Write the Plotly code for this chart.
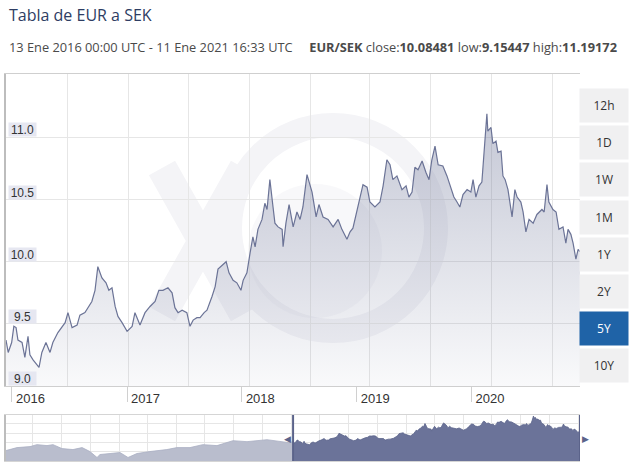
import plotly.graph_objects as go

# EUR/SEK, 5Y view
DATES = [
    "2016-01-13", "2016-01-20", "2016-01-31", "2016-02-07", "2016-02-14", "2016-02-20",
    "2016-03-04", "2016-03-13", "2016-03-23", "2016-03-29", "2016-04-08", "2016-04-21",
    "2016-04-27", "2016-05-06", "2016-05-19", "2016-06-01", "2016-06-10", "2016-06-26",
    "2016-07-09", "2016-07-19", "2016-07-28", "2016-08-10", "2016-08-26", "2016-09-04",
    "2016-09-20", "2016-09-30", "2016-10-12", "2016-10-22", "2016-10-31", "2016-11-13",
    "2016-11-26", "2016-12-05", "2016-12-15", "2016-12-25", "2017-01-03", "2017-01-16",
    "2017-01-25", "2017-02-01", "2017-02-17", "2017-02-26", "2017-03-14", "2017-03-30",
    "2017-04-15", "2017-05-01", "2017-05-13", "2017-05-26", "2017-06-11", "2017-06-24",
    "2017-07-03", "2017-07-13", "2017-07-26", "2017-08-10", "2017-08-20", "2017-08-30",
    "2017-09-11", "2017-09-21", "2017-10-04", "2017-10-13", "2017-10-29", "2017-11-08",
    "2017-11-17", "2017-12-03", "2017-12-13", "2017-12-22", "2018-01-04", "2018-01-16",
    "2018-01-29", "2018-02-05", "2018-02-17", "2018-02-27", "2018-03-08", "2018-03-15",
    "2018-03-24", "2018-04-06", "2018-04-15", "2018-04-22", "2018-05-01", "2018-05-11",
    "2018-05-17", "2018-05-27", "2018-06-09", "2018-06-12", "2018-06-21", "2018-07-01",
    "2018-07-14", "2018-07-26", "2018-08-05", "2018-08-14", "2018-08-27", "2018-09-12",
    "2018-09-25", "2018-10-04", "2018-10-17", "2018-11-02", "2018-11-18", "2018-12-04",
    "2018-12-16", "2019-01-01", "2019-01-11", "2019-01-20", "2019-02-02", "2019-02-12",
    "2019-02-21", "2019-03-06", "2019-03-15", "2019-03-31", "2019-04-16", "2019-04-26",
    "2019-05-08", "2019-05-18", "2019-05-27", "2019-06-09", "2019-06-25", "2019-07-08",
    "2019-07-17", "2019-07-27", "2019-08-05", "2019-08-15", "2019-08-28", "2019-09-09",
    "2019-09-19", "2019-09-28", "2019-10-08", "2019-10-18", "2019-11-02", "2019-11-15",
    "2019-11-28", "2019-12-07", "2019-12-17", "2019-12-26", "2020-01-05", "2020-01-18",
    "2020-01-30", "2020-02-06", "2020-02-15", "2020-02-25", "2020-03-05", "2020-03-12",
    "2020-03-21", "2020-03-24", "2020-04-03", "2020-04-09", "2020-04-19", "2020-04-25",
    "2020-05-05", "2020-05-11", "2020-05-18", "2020-05-27", "2020-06-09", "2020-06-18",
    "2020-06-25", "2020-07-07", "2020-07-14", "2020-07-23", "2020-08-02", "2020-08-15",
    "2020-08-27", "2020-09-12", "2020-09-19", "2020-09-28", "2020-10-04", "2020-10-17",
    "2020-10-27", "2020-11-05", "2020-11-18", "2020-11-27", "2020-12-04", "2020-12-13",
    "2020-12-20", "2020-12-29", "2021-01-05", "2021-01-11",
]
RATES = [
    9.37, 9.27, 9.35, 9.48, 9.47, 9.37,
    9.35, 9.23, 9.40, 9.25, 9.21, 9.17,
    9.15, 9.27, 9.35, 9.27, 9.35, 9.43,
    9.48, 9.51, 9.59, 9.47, 9.49, 9.57,
    9.59, 9.63, 9.68, 9.77, 9.96, 9.87,
    9.83, 9.77, 9.79, 9.64, 9.56, 9.51,
    9.47, 9.44, 9.48, 9.59, 9.49, 9.59,
    9.64, 9.68, 9.77, 9.77, 9.79, 9.75,
    9.63, 9.59, 9.61, 9.59, 9.48, 9.53,
    9.55, 9.55, 9.59, 9.61, 9.72, 9.80,
    9.94, 9.98, 10.00, 9.91, 9.85, 9.83,
    9.77, 9.85, 9.91, 10.07, 10.20, 10.12,
    10.26, 10.34, 10.47, 10.42, 10.66, 10.44,
    10.31, 10.28, 10.26, 10.12, 10.31, 10.46,
    10.28, 10.40, 10.34, 10.44, 10.70, 10.56,
    10.36, 10.46, 10.36, 10.34, 10.28, 10.34,
    10.26, 10.18, 10.24, 10.27, 10.42, 10.52,
    10.62, 10.60, 10.48, 10.44, 10.48, 10.61,
    10.82, 10.78, 10.66, 10.69, 10.58, 10.61,
    10.52, 10.56, 10.76, 10.74, 10.81, 10.72,
    10.66, 10.82, 10.93, 10.78, 10.77, 10.69,
    10.58, 10.52, 10.48, 10.44, 10.54, 10.58,
    10.56, 10.66, 10.52, 10.61, 10.64, 10.85,
    11.19, 11.05, 11.08, 10.95, 10.97, 10.88,
    10.89, 10.69, 10.66, 10.58, 10.36, 10.58,
    10.52, 10.48, 10.40, 10.24, 10.34, 10.31,
    10.38, 10.42, 10.40, 10.62, 10.48, 10.42,
    10.40, 10.26, 10.28, 10.15, 10.26, 10.22,
    10.15, 10.02, 10.10, 10.08,
]

# navigator history before the selected window
NAV_DATES = [
    "2011-01-13", "2011-03-24", "2011-06-15", "2011-07-29", "2011-10-01", "2011-11-08",
    "2012-01-04", "2012-03-14", "2012-05-11", "2012-06-30", "2012-08-14", "2012-09-02",
    "2012-11-05", "2013-01-07", "2013-02-27", "2013-04-25", "2013-07-16", "2013-11-01",
    "2014-01-04", "2014-03-28", "2014-06-18", "2014-09-16", "2014-12-27", "2015-03-26",
    "2015-07-31", "2015-10-22", "2015-12-18",
]
NAV_RATES = [
    8.74, 8.95, 9.02, 9.16, 9.09, 9.16,
    8.88, 8.81, 8.95, 8.67, 8.25, 8.46,
    8.53, 8.60, 8.25, 8.53, 8.67, 8.81,
    8.95, 8.95, 9.16, 9.09, 9.44, 9.37,
    9.51, 9.37, 9.30,
]

Y_TICKS = [9.0, 9.5, 10.0, 10.5, 11.0]
YEAR_TICKS = ["2016-02-01", "2017-02-01", "2018-02-01", "2019-02-01", "2020-02-01"]
YEAR_LABELS = ["2016", "2017", "2018", "2019", "2020"]
GRID_DATES = [
    "2016-07-25", "2017-02-04", "2017-08-14", "2018-02-24", "2018-09-06",
    "2019-03-15", "2019-09-25", "2020-04-06", "2020-10-14",
]
NAV_Y_GRID = [8.67, 9.30, 9.93, 10.63]
BUTTONS = ["12h", "1D", "1W", "1M", "1Y", "2Y", "5Y", "10Y"]
ACTIVE = "5Y"

W, H = 640, 467


def px(x):
    return x / W


def py(y):
    return 1 - y / H


LINE = "#6b7396"
FONT = "Open Sans"

fig = go.Figure()

fig.add_trace(
    go.Scatter(
        x=DATES, y=RATES, mode="lines",
        line=dict(color=LINE, width=1.2),
        fill="tozeroy",
        fillgradient=dict(
            type="vertical", start=9.0, stop=11.2,
            colorscale=[[0, "rgba(107,115,150,0.04)"], [1, "rgba(107,115,150,0.40)"]],
        ),
        hoverinfo="skip", showlegend=False,
    )
)

# navigator: history (light) and selected window (dark)
fig.add_trace(
    go.Scatter(
        x=NAV_DATES + DATES[:1], y=NAV_RATES + RATES[:1], mode="lines",
        line=dict(color="#a9aec3", width=0.8), fill="tozeroy", fillcolor="#b9bdcd",
        xaxis="x2", yaxis="y2", hoverinfo="skip", showlegend=False,
    )
)
fig.add_trace(
    go.Scatter(
        x=DATES, y=RATES, mode="lines",
        line=dict(color="#5b638a", width=0.8), fill="tozeroy", fillcolor="#6b7399",
        xaxis="x2", yaxis="y2", hoverinfo="skip", showlegend=False,
    )
)

# faint XE watermark behind the data
WM = "#f4f4f7"
shapes = [
    dict(type="path", xref="paper", yref="paper", layer="below",
         path=f"M {px(162)},{py(168)} L {px(244)},{py(314)} M {px(244)},{py(168)} L {px(162)},{py(314)}",
         line=dict(color=WM, width=30)),
    dict(type="circle", xref="paper", yref="paper", layer="below",
         x0=px(230), x1=px(436), y0=py(331), y1=py(125),
         line=dict(color=WM, width=24)),
    dict(type="circle", xref="paper", yref="paper", layer="below",
         x0=px(248), x1=px(382), y0=py(318), y1=py(184),
         line=dict(width=0), fillcolor="rgba(215,217,228,0.18)"),
]
# navigator handles
for d in (DATES[0], DATES[-1]):
    shapes.append(dict(type="line", xref="x2", yref="y2 domain", x0=d, x1=d, y0=0, y1=1,
                       line=dict(color="#5b638a", width=2)))

annotations = [
    dict(text="Tabla de EUR a SEK", x=px(7), y=py(15), xref="paper", yref="paper",
         xanchor="left", yanchor="middle", showarrow=False,
         font=dict(family=FONT, size=16, color="#2e3d63")),
    dict(text="13 Ene 2016 00:00 UTC - 11 Ene 2021 16:33 UTC" + "\u00a0" * 5 +
              "<b>EUR/SEK</b> close:<b>10.08481</b> low:<b>9.15447</b> high:<b>11.19172</b>",
         x=px(7), y=py(47), xref="paper", yref="paper",
         xanchor="left", yanchor="middle", showarrow=False,
         font=dict(family=FONT, size=12.8, color="#4a4a4a")),
    dict(text="\u25c0", x=DATES[0], xref="x2", y=0.5, yref="y2 domain", xanchor="right",
         yanchor="middle", showarrow=False, font=dict(size=9, color="#5b638a")),
    dict(text="\u25b6", x=DATES[-1], xref="x2", y=0.5, yref="y2 domain", xanchor="left",
         yanchor="middle", showarrow=False, font=dict(size=9, color="#5b638a")),
]
for v in Y_TICKS:
    annotations.append(dict(
        text=f"{v:.1f}", x=px(8), y=v, xref="paper", yref="y",
        xanchor="left", yanchor="bottom", showarrow=False,
        bgcolor="#e6e7f1", borderpad=0, width=27, height=13,
        font=dict(family="Liberation Sans, Arial", size=12, color="#333333"),
    ))
for i, b in enumerate(BUTTONS):
    on = b == ACTIVE
    annotations.append(dict(
        text=b, x=px(604), y=py(105.5 + i * 37.2), xref="paper", yref="paper",
        xanchor="center", yanchor="middle", showarrow=False,
        width=46, height=31, bgcolor="#1f63a7" if on else "#f0f0f1",
        font=dict(family=FONT, size=12, color="#ffffff" if on else "#333333"),
    ))

fig.update_layout(
    width=W, height=H,
    margin=dict(l=0, r=0, t=0, b=0),
    paper_bgcolor="white", plot_bgcolor="white",
    showlegend=False,
    shapes=shapes, annotations=annotations,
    xaxis=dict(
        domain=[px(6), px(580)], range=[DATES[0], DATES[-1]], type="date",
        tickmode="array", tickvals=YEAR_TICKS, ticktext=YEAR_LABELS,
        ticks="outside", ticklen=15, tickcolor="#d0d0d0", tickwidth=1,
        ticklabelposition="outside right", ticklabelstandoff=0, ticklabelshift=3,
        tickfont=dict(family="Liberation Sans, Arial", size=13, color="#333333"),
        showgrid=False, zeroline=False,
        showline=True, linecolor="#cfcfcf", linewidth=1, mirror=True,
        minor=dict(tickmode="array", tickvals=GRID_DATES, showgrid=True,
                   gridcolor="#e6e6e6", gridwidth=1, ticks=""),
        fixedrange=True,
    ),
    yaxis=dict(
        domain=[py(386), py(74)], range=[9.0, 11.51],
        tickmode="array", tickvals=Y_TICKS, showticklabels=False,
        showgrid=True, gridcolor="#e6e6e6", zeroline=False,
        showline=True, linecolor="#bdbdbd", linewidth=1.5,
        fixedrange=True,
    ),
    xaxis2=dict(
        domain=[px(6), px(580)], anchor="y2", range=[NAV_DATES[0], DATES[-1]], type="date",
        tick0="2011-01-01", dtick="M6", showticklabels=False, ticks="",
        showgrid=True, gridcolor="#e6e6e6", zeroline=False,
        showline=True, linecolor="#d5d5d5", mirror=True, fixedrange=True,
    ),
    yaxis2=dict(
        domain=[py(461), py(415)], anchor="x2", range=[8.0, 11.26],
        tickmode="array", tickvals=NAV_Y_GRID, showticklabels=False,
        showgrid=True, gridcolor="#e6e6e6", zeroline=False,
        showline=True, linecolor="#bdbdbd", linewidth=1.5, fixedrange=True,
    ),
)

fig.write_html(
    "out.html",
    config={"displayModeBar": False},
    post_script="document.body.style.margin='0px';document.documentElement.style.overflow='hidden';",
)
